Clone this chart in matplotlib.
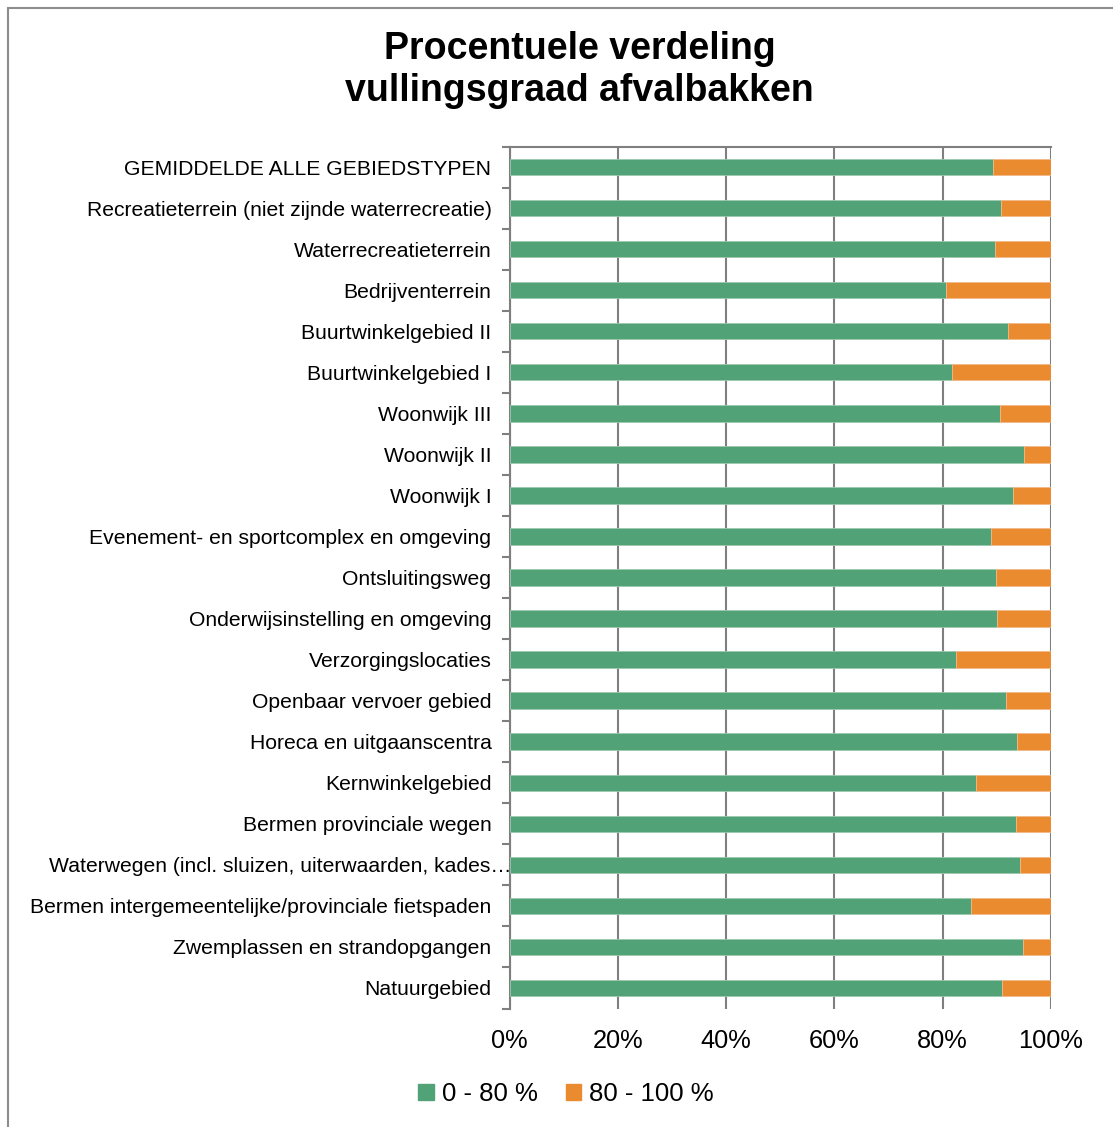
import numpy as np
import matplotlib.pyplot as plt
import matplotlib.patches as mpatches
import matplotlib.transforms as mtransforms

plt.rcParams['font.family'] = ['Liberation Sans', 'DejaVu Sans']

# categorieen (van boven naar beneden)
gebieden = ['GEMIDDELDE ALLE GEBIEDSTYPEN',
            'Recreatieterrein (niet zijnde waterrecreatie)',
            'Waterrecreatieterrein',
            'Bedrijventerrein',
            'Buurtwinkelgebied II',
            'Buurtwinkelgebied I',
            'Woonwijk III',
            'Woonwijk II',
            'Woonwijk I',
            'Evenement- en sportcomplex en omgeving',
            'Ontsluitingsweg',
            'Onderwijsinstelling en omgeving',
            'Verzorgingslocaties',
            'Openbaar vervoer gebied',
            'Horeca en uitgaanscentra',
            'Kernwinkelgebied',
            'Bermen provinciale wegen',
            'Waterwegen (incl. sluizen, uiterwaarden, kades\u2026',
            'Bermen intergemeentelijke/provinciale fietspaden',
            'Zwemplassen en strandopgangen',
            'Natuurgebied']

# aandeel 0 - 80 % (in procenten)
laag = [89.2, 90.8, 89.7, 80.7, 92.1, 81.7, 90.5, 95.1, 93.0, 89.0, 89.8,
        90.1, 82.5, 91.7, 93.8, 86.2, 93.5, 94.3, 85.3, 94.9, 91.0]
# aandeel 80 - 100 %
hoog = [100 - v for v in laag]

groen = '#52A278'
oranje = '#EB8B2F'
grijs = '#7F7F7F'

fig = plt.figure(figsize=(11.13, 11.27), dpi=100)
ax = fig.add_axes([509.5/1113, 1 - 1008.5/1127, (1051 - 509.5)/1113, (1008.5 - 146.5)/1127])

y = np.arange(len(gebieden))
ax.barh(y, laag, height=0.4, color=groen, edgecolor='#9BC9AE', linewidth=0.6, zorder=3)
ax.barh(y, hoog, left=laag, height=0.4, color=oranje, edgecolor='#F3B98A', linewidth=0.6, zorder=3)

ax.set_xlim(0, 100)
ax.set_ylim(len(gebieden) - 0.5, -0.5)
ax.set_xticks(np.arange(0, 101, 20))
ax.set_xticklabels(['%d%%' % v for v in range(0, 101, 20)], fontsize=18.3)
ax.tick_params(axis='x', length=0, pad=15)

ax.set_yticks(y)
ax.set_yticklabels(gebieden, fontsize=15.2)
ax.set_yticks(np.arange(-0.5, len(gebieden)), minor=True)
ax.tick_params(axis='y', which='major', length=0, pad=13)
ax.tick_params(axis='y', which='minor', length=6, width=1.5, color=grijs, direction='out')

# afgekapt label loopt iets verder door
lbl = ax.get_yticklabels()[17]
lbl.set_transform(lbl.get_transform() + mtransforms.ScaledTranslation(0.2, 0, fig.dpi_scale_trans))

ax.grid(axis='x', color=grijs, linewidth=1.5, zorder=1)
for s in ['right', 'bottom']:
    ax.spines[s].set_visible(False)
for s in ['left', 'top']:
    ax.spines[s].set_color(grijs)
    ax.spines[s].set_linewidth(1.5)

fig.text(0.521, 1 - 70/1127, 'Procentuele verdeling\nvullingsgraad afvalbakken',
         ha='center', va='center', fontsize=27, fontweight='bold', linespacing=1.2)

groen_patch = mpatches.Patch(color=groen, label='0 - 80 %')
oranje_patch = mpatches.Patch(color=oranje, label='80 - 100 %')
fig.legend(handles=[groen_patch, oranje_patch], loc='center', bbox_to_anchor=(566/1113, 1 - 1094/1127),
           ncol=2, frameon=False, fontsize=18.5, handlelength=0.6, handleheight=0.6,
           handletextpad=0.3, columnspacing=1.1)

kader = mpatches.Rectangle((8/1113, -0.1), 1.2, 1.1 - 8/1127, transform=fig.transFigure,
                           fill=False, edgecolor='#8C8C8C', linewidth=1.5)
fig.patches.append(kader)

fig.savefig('out.png', dpi=100)
